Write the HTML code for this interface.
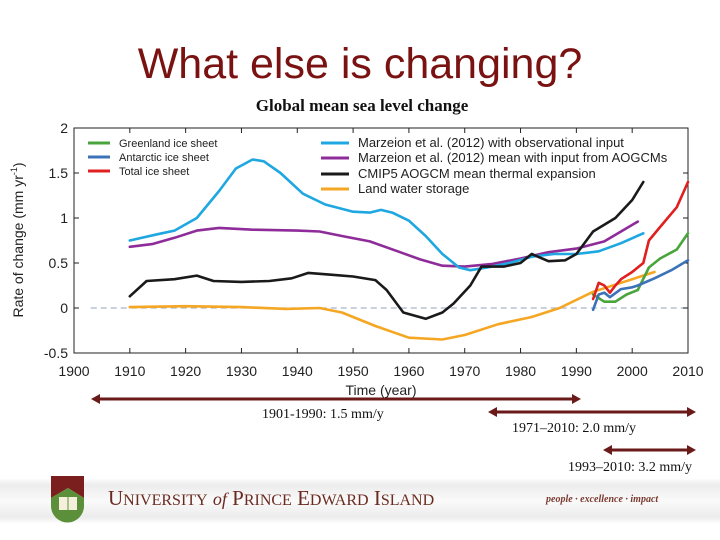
<!DOCTYPE html>
<html><head><meta charset="utf-8"><style>
body{margin:0;width:720px;height:540px;background:#fff;position:relative;overflow:hidden;font-family:"Liberation Sans",sans-serif}
.abs{position:absolute}
</style></head><body>
<div class="abs" style="left:0;width:720px;top:40px;text-align:center;font-size:43px;color:#7a1212;">What else is changing?</div>
<div class="abs" style="left:0;width:724px;top:96px;text-align:center;font-family:'Liberation Serif',serif;font-weight:bold;font-size:17px;color:#111">Global mean sea level change</div>
<svg class="abs" style="left:0;top:0" width="720" height="540">
<defs><linearGradient id="band" x1="0" y1="0" x2="0" y2="1"><stop offset="0" stop-color="#fff"/><stop offset="0.15" stop-color="#ececec"/><stop offset="0.5" stop-color="#fafafa"/><stop offset="0.85" stop-color="#ececec"/><stop offset="1" stop-color="#fff"/></linearGradient></defs>
<g id="plot"></g>
<g id="arrows"></g>
<rect x="0" y="478" width="720" height="46" fill="url(#band)"/>
<g>
<path d="M51,476 h33 v22 l-16,-10 l-17,10 z" fill="#7a1e1e"/>
<path d="M51,498 l17,-10 l16,10 v8 a16,16 0 0 1 -33,0 z" fill="#5c8f3a"/>
<rect x="59" y="497" width="18" height="13" fill="#f4f0dc"/>
<line x1="68" y1="497" x2="68" y2="510" stroke="#5c8f3a"/>
</g>
<text x="108" y="505" font-family="Liberation Serif,serif" font-size="21" fill="#6b2a20">U<tspan font-size="16">NIVERSITY</tspan> <tspan font-style="italic" font-size="18">of</tspan> P<tspan font-size="16">RINCE</tspan> E<tspan font-size="16">DWARD</tspan> I<tspan font-size="16">SLAND</tspan></text>
<text x="546" y="502" font-family="Liberation Serif,serif" font-style="italic" font-weight="bold" font-size="10" fill="#7a3a30">people · excellence · impact</text>
</svg>
<script>
const years=[1900,1910,1920,1930,1940,1950,1960,1970,1980,1990,2000,2010];
const yTicks=[2,1.5,1,0.5,0,-0.5];
const yTickLabels=["2","1.5","1","0.5","0","-0.5"];
const cyanYr=[1910,1915,1918,1922,1926,1929,1932,1934,1937,1941,1945,1950,1953,1955,1957,1960,1963,1966,1969,1971,1974,1978,1982,1986,1990,1994,1998,2002];
const cyanV=[.75,.82,.86,1.0,1.3,1.55,1.65,1.63,1.5,1.27,1.15,1.07,1.06,1.09,1.06,.97,.8,.6,.45,.42,.45,.5,.57,.6,.6,.63,.72,.83];
const purpYr=[1910,1914,1918,1922,1926,1932,1940,1944,1948,1953,1958,1962,1966,1970,1975,1980,1985,1990,1995,2001];
const purpV=[.68,.71,.78,.86,.89,.87,.86,.85,.8,.74,.63,.54,.47,.46,.49,.55,.62,.66,.74,.96];
const blkYr=[1910,1913,1918,1922,1925,1930,1935,1939,1942,1946,1950,1954,1956,1959,1963,1966,1968,1971,1973,1977,1980,1982,1985,1988,1990,1993,1997,2000,2002];
const blkV=[.13,.3,.32,.36,.3,.29,.3,.33,.39,.37,.35,.31,.2,-.05,-.12,-.05,.05,.25,.46,.46,.5,.6,.52,.53,.6,.85,1.0,1.2,1.4];
const orgYr=[1910,1920,1930,1938,1944,1948,1954,1960,1966,1970,1976,1982,1987,1993,1998,2004];
const orgV=[.01,.02,.01,-.01,0,-.05,-.2,-.33,-.35,-.3,-.18,-.1,0,.18,.28,.4];
const redYr=[1993,1994,1995,1996,1997,1998,2000,2002,2003,2005,2008,2010];
const redV=[.1,.28,.25,.17,.25,.32,.4,.5,.75,.9,1.12,1.4];
const grnYr=[1993,1995,1997,1999,2001,2003,2005,2008,2010];
const grnV=[.15,.07,.07,.15,.2,.45,.55,.65,.83];
const bluYr=[1993,1994,1995,1996,1998,2000,2001,2004,2007,2010];
const bluV=[-.02,.15,.17,.12,.21,.23,.25,.33,.42,.53];
const NS="http://www.w3.org/2000/svg";
const X=y=>74+(y-1900)*(614/110);
const Y=v=>128+(2-v)*(225/2.5);
const g=document.getElementById('plot');
function mk(t,a,p){const e=document.createElementNS(NS,t);for(const k in a)e.setAttribute(k,a[k]);(p||g).appendChild(e);return e;}
let r=mk('rect',{x:74,y:128,width:614,height:225,fill:'none',stroke:'#222','stroke-width':1});


let z=mk('line',{x1:X(1903),x2:X(2010),y1:Y(0),y2:Y(0),stroke:'#aab4c8','stroke-dasharray':'6,4','stroke-width':1.2});


years.forEach(yr=>{const x=X(yr);
mk('line',{x1:x,x2:x,y1:128,y2:133,stroke:'#222'});mk('line',{x1:x,x2:x,y1:353,y2:348,stroke:'#222'});
const t=mk('text',{x:x,y:376,'text-anchor':'middle','font-size':14,fill:'#222'});t.textContent=yr;

});
yTicks.forEach((v,i)=>{const y=Y(v);
mk('line',{x1:74,x2:79,y1:y,y2:y,stroke:'#222'});mk('line',{x1:688,x2:683,y1:y,y2:y,stroke:'#222'});
const t=mk('text',{x:68,y:y+5,'text-anchor':'end','font-size':14,fill:'#222'});t.textContent=yTickLabels[i];

});
let xt=mk('text',{x:X(1955),y:395,'text-anchor':'middle','font-size':14,fill:'#222'});xt.textContent='Time (year)';


let yt=mk('text',{x:0,y:0,'text-anchor':'middle','font-size':14,fill:'#222',transform:'translate(23,240) rotate(-90)'});yt.innerHTML='Rate of change (mm yr<tspan font-size="9" dy="-6">-1</tspan><tspan dy="6">)</tspan>';


function line(xs,vs,c,name){const d=xs.map((x,i)=>(i?'L':'M')+X(x).toFixed(1)+','+Y(vs[i]).toFixed(1)).join('');
const p=mk('path',{d:d,fill:'none',stroke:c,'stroke-width':2.6,'stroke-linejoin':'round','stroke-linecap':'round'});

}
line(orgYr,orgV,'#f5a623','land-water-line');
line(purpYr,purpV,'#8e2c9a','marzeion-aogcm-line');
line(cyanYr,cyanV,'#1ea7e0','marzeion-obs-line');
line(blkYr,blkV,'#1a1a1a','thermal-expansion-line');
line(grnYr,grnV,'#4aa43c','greenland-line');
line(bluYr,bluV,'#3c73b8','antarctic-line');
line(redYr,redV,'#e02020','total-ice-line');
const leg=[[88,143,'#4aa43c','Greenland ice sheet'],[88,157,'#3c73b8','Antarctic ice sheet'],[88,171,'#e02020','Total ice sheet'],[321,143,'#1ea7e0','Marzeion et al. (2012) with observational input'],[321,158,'#8e2c9a','Marzeion et al. (2012) mean with input from AOGCMs'],[321,174,'#1a1a1a','CMIP5 AOGCM mean thermal expansion'],[321,189,'#f5a623','Land water storage']];
leg.forEach(l=>{const big=l[0]>200;const gg=mk('g',{});


mk('line',{x1:l[0],x2:l[0]+(big?28:22),y1:l[1],y2:l[1],stroke:l[2],'stroke-width':3},gg);
const t=mk('text',{x:l[0]+(big?37:31),y:l[1]+4,'font-size':big?13:11,fill:'#222'},gg);t.textContent=l[3];});
const A=document.getElementById('arrows');
function arrow(x1,x2,y,name){const gg=mk('g',{},A);


mk('line',{x1:x1+6,x2:x2-6,y1:y,y2:y,stroke:'#6b1a1a','stroke-width':3},gg);
mk('path',{d:`M${x1},${y} l9,-5 l0,10 z M${x2},${y} l-9,-5 l0,10 z`,fill:'#6b1a1a'},gg);}
arrow(91,581,399,'arrow-1901-1990');arrow(488,696,412,'arrow-1971-2010');arrow(603,696,450,'arrow-1993-2010');
[[262,418,'1901-1990: 1.5 mm/y'],[512,432,'1971–2010: 2.0 mm/y'],[568,471,'1993–2010: 3.2 mm/y']].forEach(a=>{
const t=mk('text',{x:a[0],y:a[1],'font-family':'Liberation Serif,serif','font-size':14,fill:'#111'},A);t.textContent=a[2];

});
</script>
</body></html>
